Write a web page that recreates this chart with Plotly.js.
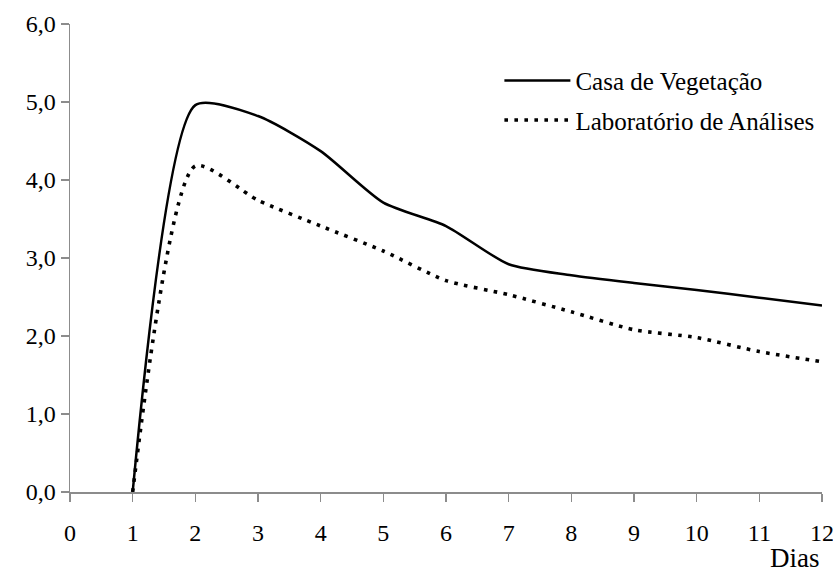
<!DOCTYPE html>
<html>
<head>
<meta charset="utf-8">
<script src="https://cdn.plot.ly/plotly-3.0.1.min.js"></script>
<style>html,body{margin:0;padding:0;background:#fff;}#chart{width:833px;height:574px;}</style>
</head>
<body>
<div id="chart"></div>
<script>
const dias = [1, 2, 3, 4, 5, 6, 7, 8, 9, 10, 11, 12];
const casaVegetacao = [0, 4.96, 4.82, 4.37, 3.71, 3.41, 2.92, 2.78, 2.68, 2.59, 2.49, 2.39];
const laboratorio = [0, 4.18, 3.74, 3.41, 3.09, 2.71, 2.53, 2.31, 2.08, 1.98, 1.80, 1.67];
const xTicks = [0, 1, 2, 3, 4, 5, 6, 7, 8, 9, 10, 11, 12];
const yTicks = [0, 1, 2, 3, 4, 5, 6];
const seriesNames = ["Casa de Vegetação", "Laboratório de Análises"];
const axisTitleX = "Dias";

const serif = "Liberation Serif, Tinos, Times New Roman, Times, serif";

const traces = [
  {
    x: dias, y: casaVegetacao, name: seriesNames[0], mode: "lines", legendgroup: "a",
    line: {color: "#000", width: 2.5, shape: "spline", smoothing: 0.65}
  },
  {
    x: dias, y: laboratorio, name: seriesNames[1], mode: "lines", legendgroup: "b",
    line: {color: "#000", width: 3.6, dash: "3.6px,6.4px", shape: "spline", smoothing: 0.65}
  }
];

const layout = {
  width: 833, height: 574,
  margin: {l: 70, r: 11, t: 24, b: 82},
  paper_bgcolor: "#fff", plot_bgcolor: "#fff",
  separators: ",.",
  font: {family: serif, color: "#000"},
  showlegend: true,
  legend: {
    x: 0.571, y: 0.928, xanchor: "left", yanchor: "top",
    font: {family: serif, size: 25, color: "#000"},
    itemwidth: 66, tracegroupgap: 4, bgcolor: "rgba(0,0,0,0)"
  },
  xaxis: {
    range: [0, 12], tickmode: "array", tickvals: xTicks, ticktext: xTicks.map(String),
    showline: true, linecolor: "#8c8c8c", linewidth: 1.5,
    ticks: "outside", ticklen: 8, tickcolor: "#8c8c8c", tickwidth: 1.5,
    showgrid: false, zeroline: false, ticklabeloverflow: "allow",
    tickfont: {family: serif, size: 24, color: "#000"}, ticklabelstandoff: 11
  },
  yaxis: {
    range: [0, 6], tickmode: "array", tickvals: yTicks, tickformat: ".1f",
    showline: true, linecolor: "#8c8c8c", linewidth: 1.5,
    ticks: "outside", ticklen: 8, tickcolor: "#8c8c8c", tickwidth: 1.5,
    showgrid: false, zeroline: false,
    tickfont: {family: serif, size: 24, color: "#000"}
  },
  annotations: [{
    text: axisTitleX, xref: "paper", yref: "paper", x: 1, y: -0.104,
    xanchor: "right", yanchor: "top", showarrow: false,
    font: {family: serif, size: 27, color: "#000"}
  }]
};

Plotly.newPlot("chart", traces, layout, {displayModeBar: false, staticPlot: true});
</script>
</body>
</html>
